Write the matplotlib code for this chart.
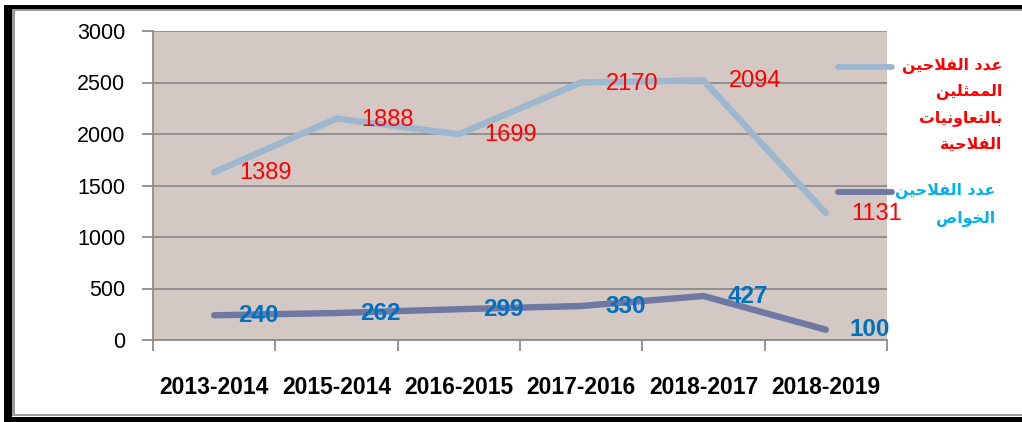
import matplotlib
matplotlib.use("Agg")
import matplotlib.pyplot as plt
from matplotlib.patches import Rectangle
from matplotlib.lines import Line2D
import numpy as np

# ---------------- data ----------------
categories = ["2013-2014", "2015-2014", "2016-2015", "2017-2016", "2018-2017", "2018-2019"]
private_farmers = [240, 262, 299, 330, 427, 100]            # عدد الفلاحين الخواص
coop_farmers = [1389, 1888, 1699, 2170, 2094, 1131]         # عدد الفلاحين الممثلين بالتعاونيات الفلاحية
legend_coop = ["عدد الفلاحين", "الممثلين", "بالتعاونيات", "الفلاحية"]
legend_private = ["عدد الفلاحين", "الخواص"]
yticks = [0, 500, 1000, 1500, 2000, 2500, 3000]

# ---------------- minimal Arabic shaping (matplotlib has no bidi/shaping) ----------------
FORMS = {  # isolated, final, initial, medial
    'ا': ('\uFE8D', '\uFE8E', None, None),
    'ب': ('\uFE8F', '\uFE90', '\uFE91', '\uFE92'),
    'ة': ('\uFE93', '\uFE94', None, None),
    'ت': ('\uFE95', '\uFE96', '\uFE97', '\uFE98'),
    'ث': ('\uFE99', '\uFE9A', '\uFE9B', '\uFE9C'),
    'ح': ('\uFEA1', '\uFEA2', '\uFEA3', '\uFEA4'),
    'خ': ('\uFEA5', '\uFEA6', '\uFEA7', '\uFEA8'),
    'د': ('\uFEA9', '\uFEAA', None, None),
    'ص': ('\uFEB9', '\uFEBA', '\uFEBB', '\uFEBC'),
    'ع': ('\uFEC9', '\uFECA', '\uFECB', '\uFECC'),
    'ف': ('\uFED1', '\uFED2', '\uFED3', '\uFED4'),
    'ل': ('\uFEDD', '\uFEDE', '\uFEDF', '\uFEE0'),
    'م': ('\uFEE1', '\uFEE2', '\uFEE3', '\uFEE4'),
    'ن': ('\uFEE5', '\uFEE6', '\uFEE7', '\uFEE8'),
    'و': ('\uFEED', '\uFEEE', None, None),
    'ي': ('\uFEF1', '\uFEF2', '\uFEF3', '\uFEF4'),
}
LAMALEF = ('\uFEFB', '\uFEFC')


def shape_word(word):
    units = []
    i = 0
    while i < len(word):
        if word[i] == 'ل' and i + 1 < len(word) and word[i + 1] == 'ا':
            units.append('LA')
            i += 2
        else:
            units.append(word[i])
            i += 1

    def dual(u):
        return u != 'LA' and u in FORMS and FORMS[u][2] is not None

    out = []
    for k, u in enumerate(units):
        prev_joins = k > 0 and dual(units[k - 1])
        if u == 'LA':
            out.append(LAMALEF[1] if prev_joins else LAMALEF[0])
            continue
        if u not in FORMS:
            out.append(u)
            continue
        iso, fin, ini, med = FORMS[u]
        next_joins = dual(u) and k + 1 < len(units) and (
            units[k + 1] in FORMS or units[k + 1] == 'LA')
        if prev_joins and next_joins:
            out.append(med)
        elif prev_joins:
            out.append(fin)
        elif next_joins:
            out.append(ini)
        else:
            out.append(iso)
    return ''.join(out)


def rtl(text):
    shaped = ' '.join(shape_word(w) for w in text.split(' '))
    return shaped[::-1]


# ---------------- figure ----------------
W, H = 1022, 422
fig = plt.figure(figsize=(W / 100, H / 100), dpi=100)
fig.patch.set_facecolor('white')

L, R, T, B = 153, 887, 31, 340
ax = fig.add_axes([L / W, 1 - B / H, (R - L) / W, (B - T) / H])
ax.set_facecolor('#D3C8C4')

x = np.arange(len(categories))
cum_top = np.array(private_farmers) + np.array(coop_farmers)

col_top = '#9CB7CE'
col_bot = '#6E78A2'
ax.plot(x, private_farmers, color=col_bot, lw=4.6, solid_capstyle='round',
        solid_joinstyle='round', zorder=3)
ax.plot(x, cum_top, color=col_top, lw=4.6, solid_capstyle='round',
        solid_joinstyle='round', zorder=3)

lab_font = 'Liberation Sans'
for xi, yv, v in zip(x, cum_top, coop_farmers):
    ax.annotate(str(v), (xi, yv), xytext=(25, -1), textcoords='offset pixels',
                ha='left', va='center', color='#FF0000', fontsize=17,
                family=lab_font, zorder=5, annotation_clip=False)
for xi, yv, v in zip(x, private_farmers, private_farmers):
    ax.annotate(str(v), (xi, yv), xytext=(24, 0), textcoords='offset pixels',
                ha='left', va='center', color='#0070C0', fontsize=17.5,
                fontweight='bold', family=lab_font, zorder=5, annotation_clip=False)

ax.set_xlim(-0.5, len(categories) - 0.5)
ax.set_ylim(0, 3000)
ax.set_yticks(yticks)
ax.set_yticklabels([str(t) for t in yticks], family=lab_font, fontsize=15.5)
ax.grid(axis='y', color='#8C8C8C', lw=1.3, zorder=1)
ax.set_axisbelow(True)

ax.set_xticks(x)
ax.set_xticklabels(categories, family=lab_font, fontsize=16.5, fontweight='bold')
ax.set_xticks(np.arange(-0.5, len(categories)), minor=True)
ax.tick_params(axis='x', which='major', length=0, pad=26)
ax.tick_params(axis='x', which='minor', length=8, width=1.3, color='#8C8C8C')
ax.tick_params(axis='y', length=8, width=1.3, color='#8C8C8C', pad=12)

for s in ['top', 'right']:
    ax.spines[s].set_visible(False)
for s in ['left', 'bottom']:
    ax.spines[s].set_color('#8C8C8C')
    ax.spines[s].set_linewidth(1.3)


# ---------------- legend (manual) ----------------
def fx(px):
    return px / W


def fy(py):
    return 1 - py / H


ar_font = ['DejaVu Sans']
fig.add_artist(Line2D([fx(838), fx(892)], [fy(67), fy(67)], color=col_top, lw=4.2,
                      solid_capstyle='round'))
for i, line in enumerate(legend_coop):
    fig.text(fx(1002), fy(66 + i * 26), rtl(line), ha='right', va='center',
             color='#FF0000', fontsize=11.3, fontweight='bold', family=ar_font)

fig.add_artist(Line2D([fx(838), fx(892)], [fy(192), fy(192)], color=col_bot, lw=4.2,
                      solid_capstyle='round'))
for i, line in enumerate(legend_private):
    fig.text(fx(995), fy(191 + i * 28), rtl(line), ha='right', va='center',
             color='#00B0F0', fontsize=11.3, fontweight='bold', family=ar_font)

# ---------------- frame ----------------
def rect(x0, y0, x1, y1, color):
    fig.add_artist(Rectangle((fx(x0), fy(y1)), (x1 - x0) / W, (y1 - y0) / H,
                             transform=fig.transFigure, facecolor=color,
                             edgecolor='none', zorder=10))


rect(4, 5, 12, 422, 'black')
rect(4, 5, 1022, 9, 'black')
rect(4, 417, 1022, 422, 'black')
rect(12, 9, 15, 416, '#999999')
rect(12, 9, 1022, 11, '#999999')
rect(12, 414, 1022, 416, '#999999')

fig.savefig('out.png', dpi=100, facecolor='white')
